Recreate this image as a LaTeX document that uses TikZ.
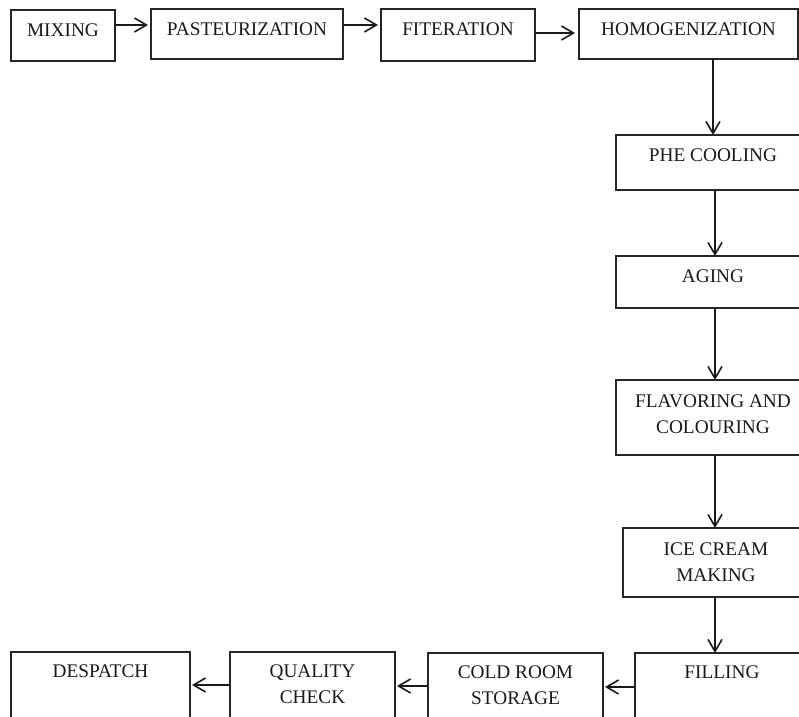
\documentclass[tikz,border=0pt]{standalone}
\usepackage{fontspec}
\setmainfont{Liberation Serif}
\usetikzlibrary{arrows.meta,calc}
\begin{document}
\begin{tikzpicture}[x=1bp,y=-1bp,
  box/.style={draw=black!85, line width=1.4bp, rectangle, inner sep=0pt, outer sep=0pt},
  lbl/.style={anchor=north, inner sep=0pt, align=center, text=black!90,
    font=\fontsize{19.3bp}{26bp}\selectfont},
  flow/.style={draw=black!90, line width=1.6bp,
    -{Straight Barb[length=12bp,width=14bp,line width=1.6bp]}}]
\useasboundingbox (0,0) rectangle (799,717);
\clip (0,0) rectangle (799,717);

% process boxes
\node[box, minimum width=104bp, minimum height=51bp] (mix)   at (63,35.5)   {};
\node[box, minimum width=192bp, minimum height=50bp] (past)  at (247,34)    {};
\node[box, minimum width=154bp, minimum height=52bp] (fit)   at (458,35)    {};
\node[box, minimum width=219bp, minimum height=50bp] (homo)  at (688.5,34)  {};
\node[box, minimum width=194bp, minimum height=55bp] (phe)   at (713,162.5) {};
\node[box, minimum width=194bp, minimum height=52bp] (aging) at (713,282)   {};
\node[box, minimum width=194bp, minimum height=75bp] (flav)  at (713,417.5) {};
\node[box, minimum width=186bp, minimum height=69bp] (ice)   at (716,562.5) {};
\node[box, minimum width=174bp, minimum height=87bp] (fill)  at (722,696.5) {};
\node[box, minimum width=175bp, minimum height=87bp] (cold)  at (515.5,696.5) {};
\node[box, minimum width=165bp, minimum height=88bp] (qual)  at (312.5,696) {};
\node[box, minimum width=179bp, minimum height=88bp] (desp)  at (100.5,696) {};

% box texts, set near the top edge
\node[lbl] (mixT)   at ([yshift=-14bp]mix.north)   {MIXING};
\node[lbl] (pastT)  at ([yshift=-14bp]past.north)  {PASTEURIZATION};
\node[lbl] (fitT)   at ([yshift=-14bp]fit.north)   {FITERATION};
\node[lbl] (homoT)  at ([yshift=-14bp]homo.north)  {HOMOGENIZATION};
\node[lbl] (pheT)   at ([yshift=-14bp]phe.north)   {PHE COOLING};
\node[lbl] (agingT) at ([yshift=-14bp]aging.north) {AGING};
\node[lbl] (flavT)  at ([yshift=-15bp]flav.north)  {FLAVORING AND\\COLOURING};
\node[lbl] (iceT)   at ([yshift=-15bp]ice.north)   {ICE CREAM\\MAKING};
\node[lbl] (fillT)  at ([yshift=-13bp]fill.north)  {FILLING};
\node[lbl] (coldT)  at ([yshift=-13bp]cold.north)  {COLD ROOM\\STORAGE};
\node[lbl] (qualT)  at ([yshift=-13bp]qual.north)  {QUALITY\\CHECK};
\node[lbl] (despT)  at ([yshift=-13bp]desp.north)  {DESPATCH};

% flow connectors
\draw[flow] ([yshift=-15bp]mix.north east)  -- ([xshift=-3bp,yshift=-16bp]past.north west);
\draw[flow] ([yshift=-16bp]past.north east) -- ([xshift=-3bp,yshift=-16bp]fit.north west);
\draw[flow] ([yshift=-24bp]fit.north east)  -- ([xshift=-4bp,yshift=-24bp]homo.north west);
\draw[flow] ([xshift=24.5bp]homo.south) -- (phe.north);
\draw[flow] ([xshift=2bp]phe.south)   -- ([xshift=2bp]aging.north);
\draw[flow] ([xshift=2bp]aging.south) -- ([xshift=2bp]flav.north);
\draw[flow] ([xshift=2bp]flav.south)  -- ([xshift=-1bp]ice.north);
\draw[flow] ([xshift=-1bp]ice.south)  -- ([xshift=-7bp]fill.north);
\draw[flow] ([yshift=-34bp]fill.north west) -- ([xshift=2bp,yshift=-34bp]cold.north east);
\draw[flow] ([yshift=-33bp]cold.north west) -- ([xshift=2bp,yshift=-34bp]qual.north east);
\draw[flow] ([yshift=-33bp]qual.north west) -- ([xshift=2bp,yshift=-33bp]desp.north east);
\end{tikzpicture}
\end{document}
